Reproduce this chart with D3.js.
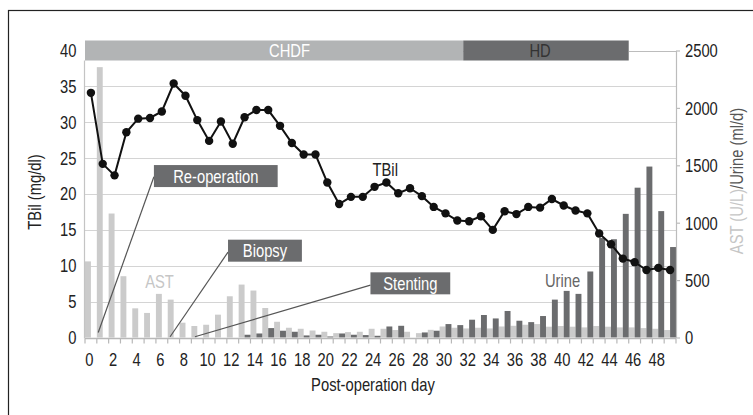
<!DOCTYPE html>
<html>
<head>
<meta charset="utf-8">
<script src="https://cdn.jsdelivr.net/npm/d3@7"></script>
<style>
  body { margin: 0; background: #fff; }
  svg text { font-family: "Liberation Sans", Arial, sans-serif; }
</style>
</head>
<body>
<div id="chart"></div>
<script>
// Post-operation days 0..49
const days = d3.range(0, 50);

// TBil (mg/dl), left axis
const tbil = [
  34.1, 24.2, 22.6, 28.6, 30.5, 30.6, 31.5, 35.4, 33.7, 30.3,
  27.4, 30.1, 27.0, 30.7, 31.7, 31.7, 29.5, 27.1, 25.5, 25.5,
  21.6, 18.6, 19.6, 19.6, 21.0, 21.6, 20.1, 20.8, 19.7, 18.2,
  17.3, 16.3, 16.2, 16.9, 15.0, 17.6, 17.2, 18.2, 18.1, 19.3,
  18.4, 17.7, 17.3, 14.5, 13.0, 11.0, 10.5, 9.4, 9.7, 9.4
];

// AST (U/L), right axis
const ast = [
  663, 2355, 1080, 534, 254, 214, 380, 330, 129, 100,
  111, 199, 359, 461, 409, 257, 137, 85, 76, 61,
  50, 38, 47, 50, 76, 76, 65, 50, 38, 67,
  96, 85, 79, 85, 79, 96, 102, 111, 117, 94,
  100, 94, 88, 100, 94, 88, 88, 82, 76, 65
];

// Urine (ml/d), right axis
const urine = [
  0, 0, 0, 0, 0, 0, 0, 0, 0, 0,
  0, 0, 0, 24, 35, 82, 59, 50, 18, 24,
  9, 35, 24, 21, 15, 96, 102, 0, 44, 59,
  117, 108, 155, 196, 166, 231, 146, 134, 187, 330,
  406, 380, 575, 867, 856, 1077, 1305, 1489, 1101, 788
];

// dialysis periods (day from, day to)
const therapies = [
  { name: "CHDF", from: 0, to: 32, labelAt: 17.3 },
  { name: "HD", from: 32, to: 46, labelAt: 38.5 }
];

// event call-outs: box in (day, TBil) units, line end point in (day, TBil)
const events = [
  { name: "Re-operation", x0: 5.83, x1: 16.3, yc: 22.5, lx: 1.12, ly: 0.7, sy: 22.4 },
  { name: "Biopsy", x0: 12.1, x1: 18.35, yc: 12.1, lx: 7.2, ly: 0.1, sy: 11.9 },
  { name: "Stenting", x0: 24.15, x1: 30.9, yc: 7.55, lx: 9.3, ly: 0.1, sy: 7.3 }
];

const leftTicks = [0, 5, 10, 15, 20, 25, 30, 35, 40];
const rightTicks = [0, 500, 1000, 1500, 2000, 2500];

const W = 753, H = 415;
const plotLeft = 85, plotRight = 676, plotTop = 50.5, plotBottom = 337.5;

const lightGrey = "#cbcbcb";
const darkGrey = "#6b6c6e";
const gridGrey = "#d4d4d4";
const FS = 18;
const K = 0.82; // horizontal squeeze to mimic a condensed face

// put a condensed text at (px, py)
function squeeze(sel, px, py) {
  return sel
    .attr("x", typeof px === "function" ? (d, i) => px(d, i) / K : px / K)
    .attr("y", py)
    .attr("transform", `scale(${K},1)`)
    .attr("font-size", FS);
}

const svg = d3.select("#chart").append("svg")
  .attr("width", W)
  .attr("height", H);

// outer frame (runs off the page on the right and bottom)
svg.append("rect")
  .attr("x", 8.5).attr("y", 10.5)
  .attr("width", 800).attr("height", 500)
  .attr("fill", "none").attr("stroke", "#222").attr("stroke-width", 1.2);

const x = d3.scaleBand().domain(days).range([plotLeft, plotRight]).padding(0);
const sub = d3.scaleBand().domain(["ast", "urine"]).range([0, x.bandwidth()]);
const xd = d3.scaleLinear().domain([0, 50]).range([plotLeft, plotRight]); // continuous day position
const yL = d3.scaleLinear().domain([0, 40]).range([plotBottom, plotTop]);
const yR = d3.scaleLinear().domain([0, 2500]).range([plotBottom, plotTop]);

// gridlines
svg.append("g")
  .selectAll("line")
  .data(leftTicks.filter(d => d > 0))
  .join("line")
  .attr("x1", plotLeft).attr("x2", plotRight)
  .attr("y1", d => Math.round(yL(d)) + 0.5).attr("y2", d => Math.round(yL(d)) + 0.5)
  .attr("stroke", gridGrey).attr("stroke-width", 1.2);

// bars
const rows = days.map((d, i) => ({ day: d, ast: ast[i], urine: urine[i], tbil: tbil[i] }));

svg.append("g")
  .selectAll("rect")
  .data(rows.filter(d => d.ast > 0))
  .join("rect")
  .attr("x", d => x(d.day) + sub("ast"))
  .attr("y", d => yR(d.ast))
  .attr("width", sub.bandwidth())
  .attr("height", d => plotBottom - yR(d.ast))
  .attr("fill", lightGrey);

svg.append("g")
  .selectAll("rect")
  .data(rows.filter(d => d.urine > 0))
  .join("rect")
  .attr("x", d => x(d.day) + sub("urine"))
  .attr("y", d => yR(d.urine))
  .attr("width", sub.bandwidth())
  .attr("height", d => plotBottom - yR(d.urine))
  .attr("fill", darkGrey);

// therapy band on top
const band = svg.append("g");
band.selectAll("rect")
  .data(therapies)
  .join("rect")
  .attr("x", d => xd(d.from))
  .attr("y", yL(40) - 10)
  .attr("width", d => xd(d.to) - xd(d.from))
  .attr("height", 20)
  .attr("fill", (d, i) => i === 0 ? "#b2b4b5" : darkGrey);
band.selectAll("text")
  .data(therapies)
  .join("text")
  .call(squeeze, d => xd(d.labelAt), yL(40) + 6.5)
  .attr("text-anchor", "middle")
  .attr("fill", (d, i) => i === 0 ? "#fff" : "#333")
  .text(d => d.name);
// remaining top gridline after the band
svg.append("line")
  .attr("x1", xd(46)).attr("x2", plotRight)
  .attr("y1", Math.round(yL(40)) + 0.5).attr("y2", Math.round(yL(40)) + 0.5)
  .attr("stroke", "#bcbcbc");

// left axis line
svg.append("line")
  .attr("x1", plotLeft - 0.5).attr("x2", plotLeft - 0.5)
  .attr("y1", yL(40) + 10).attr("y2", plotBottom + 1)
  .attr("stroke", "#c4c4c4").attr("stroke-width", 1.2);

// x axis: ticks on every day boundary, labels on even days
const xAxis = svg.append("g").attr("transform", `translate(0,${plotBottom + 1})`);
xAxis.append("line")
  .attr("x1", plotLeft).attr("x2", plotRight)
  .attr("stroke", "#b8b8b8").attr("stroke-width", 1.4);
xAxis.selectAll("line.tick")
  .data(d3.range(0, 51))
  .join("line")
  .attr("class", "tick")
  .attr("x1", d => xd(d)).attr("x2", d => xd(d))
  .attr("y1", 0).attr("y2", 5)
  .attr("stroke", "#b8b8b8").attr("stroke-width", 1.2);
xAxis.selectAll("text")
  .data(days.filter(d => d % 2 === 0))
  .join("text")
  .call(squeeze, d => x(d) + x.bandwidth() / 2 - 1.5, 28)
  .attr("text-anchor", "middle")
  .attr("fill", "#222")
  .text(d => d);

// left tick labels
svg.append("g")
  .selectAll("text")
  .data(leftTicks)
  .join("text")
  .call(squeeze, 76.5, d => yL(d) + 6.5)
  .attr("text-anchor", "end")
  .attr("fill", "#222")
  .text(d => d);

// right axis
const rAxis = svg.append("g")
  .attr("transform", `translate(${plotRight},0)`)
  .call(d3.axisRight(yR).tickValues(rightTicks).tickFormat(d3.format("d"))
    .tickSize(4).tickPadding(5).tickSizeOuter(0));
rAxis.select(".domain").attr("stroke", "#bcbcbc").attr("stroke-width", 1.2);
rAxis.selectAll(".tick line").attr("stroke", "#bcbcbc").attr("stroke-width", 1.2);
rAxis.selectAll(".tick text")
  .call(squeeze, 9, 0)
  .attr("dy", "0.35em")
  .attr("fill", "#222");

// TBil line
const line = d3.line()
  .x(d => x(d.day) + x.bandwidth() / 2)
  .y(d => yL(d.tbil));
svg.append("path")
  .datum(rows)
  .attr("d", line)
  .attr("fill", "none")
  .attr("stroke", "#111")
  .attr("stroke-width", 2);
svg.append("g")
  .selectAll("circle")
  .data(rows)
  .join("circle")
  .attr("cx", d => x(d.day) + x.bandwidth() / 2)
  .attr("cy", d => yL(d.tbil))
  .attr("r", 4.2)
  .attr("fill", "#111");

// event call-outs
const ev = svg.append("g");
ev.selectAll("line")
  .data(events)
  .join("line")
  .attr("x1", d => xd(d.x0)).attr("y1", d => yL(d.sy))
  .attr("x2", d => xd(d.lx)).attr("y2", d => yL(d.ly))
  .attr("stroke", "#555").attr("stroke-width", 1.2);
ev.selectAll("rect")
  .data(events)
  .join("rect")
  .attr("x", d => xd(d.x0))
  .attr("y", d => yL(d.yc) - 11)
  .attr("width", d => xd(d.x1) - xd(d.x0))
  .attr("height", 22)
  .attr("fill", darkGrey);
ev.selectAll("text")
  .data(events)
  .join("text")
  .call(squeeze, d => (xd(d.x0) + xd(d.x1)) / 2, d => yL(d.yc) + 6.5)
  .attr("text-anchor", "middle")
  .attr("fill", "#fff")
  .text(d => d.name);

// series labels
const labels = [
  { text: "TBil", day: 25.4, val: 23.4, color: "#222" },
  { text: "AST", day: 6.3, val: 7.8, color: "#c6c6c6" },
  { text: "Urine", day: 40.4, val: 8.0, color: "#666" }
];
svg.append("g")
  .selectAll("text")
  .data(labels)
  .join("text")
  .call(squeeze, d => xd(d.day), d => yL(d.val) + 6.5)
  .attr("text-anchor", "middle")
  .attr("fill", d => d.color)
  .text(d => d.text);

// axis titles
svg.append("text")
  .attr("transform", `translate(41,192) rotate(-90) scale(${K},1)`)
  .attr("text-anchor", "middle")
  .attr("font-size", FS)
  .attr("fill", "#222")
  .text("TBil (mg/dl)");

const rt = svg.append("text")
  .attr("transform", `translate(743,181) rotate(-90) scale(${K},1)`)
  .attr("text-anchor", "middle")
  .attr("font-size", FS);
rt.append("tspan").attr("fill", "#c6c6c6").text("AST (U/L)");
rt.append("tspan").attr("fill", "#555").text("/Urine (ml/d)");

svg.append("text")
  .call(squeeze, 373, 391)
  .attr("text-anchor", "middle")
  .attr("fill", "#222")
  .text("Post-operation day");
</script>
</body>
</html>
